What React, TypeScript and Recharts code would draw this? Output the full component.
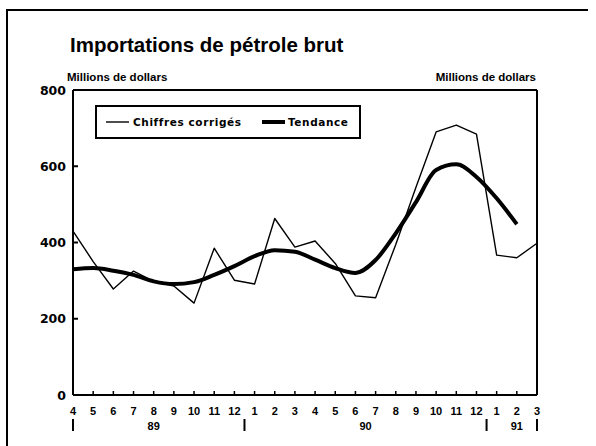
import React from "react";
import { LineChart, Line, XAxis, YAxis, ReferenceLine, Legend } from "recharts";

const months = ["4","5","6","7","8","9","10","11","12","1","2","3","4","5","6","7","8","9","10","11","12","1","2","3"];
const years = [
  { label: "89", start: 0, end: 8 },
  { label: "90", start: 9, end: 20 },
  { label: "91", start: 21, end: 23 },
];
const corriges = [430, 350, 278, 325, 298, 286, 241, 385, 301, 291, 463, 388, 404, 345, 260, 255, 395, 545, 690, 708, 684, 367, 360, 398];
const tendance: (number | null)[] = [330, 333, 326, 315, 298, 291, 296, 315, 338, 364, 380, 376, 355, 333, 320, 354, 424, 506, 590, 605, 572, 516, 448, null];
const yTicks = [0, 200, 400, 600, 800];
const title = "Importations de pétrole brut";
const unitLabel = "Millions de dollars";
const seriesNames = { corriges: "Chiffres corrigés", tendance: "Tendance" };

const data = months.map((m, i) => ({ i, month: m, corriges: corriges[i], tendance: tendance[i] }));

const separators = [0, ...years.slice(1).map((y) => y.start - 0.5), months.length - 1];
const yearCenters = years.map((y) => ({ pos: (y.start + y.end) / 2, label: y.label }));
const xTicks = Array.from(
  new Set([...months.map((_, i) => i), ...separators, ...yearCenters.map((c) => c.pos)])
).sort((a, b) => a - b);

const numFont = "'DejaVu Sans', sans-serif";
const txtFont = "'Liberation Sans', Arial, sans-serif";

const YTick = (props: any) => {
  const { x, y, payload, side } = props;
  const left = side === "left";
  return (
    <g>
      <line x1={x} x2={left ? x + 5 : x - 5} y1={y} y2={y} stroke="#000" strokeWidth={2} />
      <text
        x={left ? x - 7 : x + 4}
        y={y}
        dy="0.36em"
        textAnchor={left ? "end" : "start"}
        fontFamily={numFont}
        fontWeight="bold"
        fontSize={12.5}
        fill="#000"
      >
        {payload.value}
      </text>
    </g>
  );
};

const XTick = (props: any) => {
  const { x, y, payload } = props;
  const v = payload.value as number;
  const isMonth = Number.isInteger(v);
  const isSep = separators.includes(v);
  const yc = yearCenters.find((c) => c.pos === v);
  return (
    <g>
      {isMonth && <line x1={x} x2={x} y1={y} y2={y - 4} stroke="#000" strokeWidth={1.5} />}
      {isMonth && (
        <text x={x} y={y + 20} textAnchor="middle" fontFamily={txtFont} fontWeight="bold" fontSize={11} fill="#000">
          {months[v]}
        </text>
      )}
      {isSep && <line x1={x} x2={x} y1={y + 24} y2={y + 36} stroke="#000" strokeWidth={2} />}
      {yc && (
        <text x={x} y={y + 35} textAnchor="middle" fontFamily={txtFont} fontWeight="bold" fontSize={11} fill="#000">
          {yc.label}
        </text>
      )}
    </g>
  );
};

const LegendBox = () => (
  <div
    style={{
      position: "relative",
      width: 266,
      height: 34,
      border: "2px solid #000",
      boxSizing: "border-box",
      background: "#fff",
      fontFamily: numFont,
      fontWeight: "bold",
      fontSize: 10.5,
      letterSpacing: 0.6,
      color: "#000",
    }}
  >
    <svg width={266} height={34} style={{ position: "absolute", left: -2, top: -2 }}>
      <line x1={11} x2={34} y1={17} y2={17} stroke="#000" strokeWidth={1.4} />
      <line x1={167} x2={190} y1={17} y2={17} stroke="#000" strokeWidth={4} />
    </svg>
    <span style={{ position: "absolute", left: 36, top: 8, lineHeight: "14px", whiteSpace: "nowrap" }}>
      {seriesNames.corriges}
    </span>
    <span style={{ position: "absolute", left: 191, top: 8, lineHeight: "14px", whiteSpace: "nowrap" }}>
      {seriesNames.tendance}
    </span>
  </div>
);

export default function App() {
  return (
    <div style={{ position: "absolute", left: 0, top: 0, width: 596, height: 446, background: "#fff" }}>
      <LineChart width={596} height={446} data={data} margin={{ top: 90, right: 0, bottom: 0, left: 0 }}>
        <XAxis
          dataKey="i"
          type="number"
          domain={[0, months.length - 1]}
          ticks={xTicks}
          interval={0}
          height={51}
          tickSize={0}
          tickMargin={0}
          axisLine={{ stroke: "#000", strokeWidth: 2 }}
          tickLine={false}
          tick={<XTick />}
          allowDecimals
        />
        <YAxis
          yAxisId="left"
          orientation="left"
          width={73}
          domain={[0, 800]}
          ticks={yTicks}
          tickSize={0}
          tickMargin={0}
          axisLine={{ stroke: "#000", strokeWidth: 2 }}
          tickLine={false}
          tick={<YTick side="left" />}
        />
        <YAxis
          yAxisId="right"
          orientation="right"
          width={59}
          domain={[0, 800]}
          ticks={yTicks}
          tickSize={0}
          tickMargin={0}
          axisLine={{ stroke: "#000", strokeWidth: 2 }}
          tickLine={false}
          tick={<YTick side="right" />}
        />
        <ReferenceLine yAxisId="left" y={800} stroke="#000" strokeWidth={2} />
        <Legend
          layout="horizontal"
          verticalAlign="middle"
          align="center"
          content={<LegendBox />}
          wrapperStyle={{ position: "absolute", left: 95, top: 105, width: 266, height: 34 }}
        />
        <Line
          yAxisId="left"
          type="linear"
          dataKey="corriges"
          name={seriesNames.corriges}
          stroke="#000"
          strokeWidth={1.4}
          dot={false}
          isAnimationActive={false}
          strokeLinejoin="round"
        />
        <Line
          yAxisId="left"
          type="monotone"
          dataKey="tendance"
          name={seriesNames.tendance}
          stroke="#000"
          strokeWidth={4}
          dot={false}
          isAnimationActive={false}
          strokeLinejoin="round"
        />
      </LineChart>
      <svg width={596} height={446} style={{ position: "absolute", left: 0, top: 0, pointerEvents: "none" }}>
        <line x1={7} x2={588} y1={10} y2={10} stroke="#000" strokeWidth={2} />
        <line x1={7} x2={7} y1={9} y2={446} stroke="#000" strokeWidth={2} />
        <text x={70} y={52} fontFamily={txtFont} fontWeight="bold" fontSize={20.5} fill="#000">
          {title}
        </text>
        <text x={67} y={81} fontFamily={txtFont} fontWeight="bold" fontSize={11.5} fill="#000">
          {unitLabel}
        </text>
        <text x={536} y={81} textAnchor="end" fontFamily={txtFont} fontWeight="bold" fontSize={11.5} fill="#000">
          {unitLabel}
        </text>
      </svg>
    </div>
  );
}
